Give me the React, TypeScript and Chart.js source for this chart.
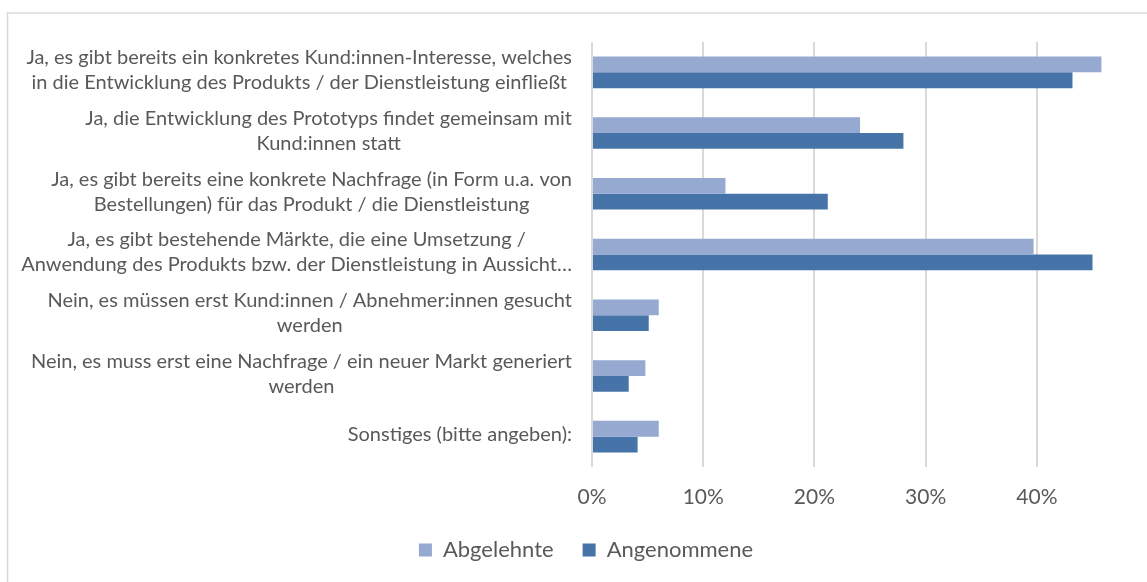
import React, { useEffect, useRef } from 'react';
import { Chart, registerables } from 'chart.js';

Chart.register(...registerables);

// ---- data ----
const categories: string[][] = [
  ['Ja, es gibt bereits ein konkretes Kund:innen-Interesse, welches', 'in die Entwicklung des Produkts / der Dienstleistung einfließt'],
  ['Ja, die Entwicklung des Prototyps findet gemeinsam mit', 'Kund:innen statt'],
  ['Ja, es gibt bereits eine konkrete Nachfrage (in Form u.a. von', 'Bestellungen) für das Produkt / die Dienstleistung'],
  ['Ja, es gibt bestehende Märkte, die eine Umsetzung /', 'Anwendung des Produkts bzw. der Dienstleistung in Aussicht…'],
  ['Nein, es müssen erst Kund:innen / Abnehmer:innen gesucht', 'werden'],
  ['Nein, es muss erst eine Nachfrage / ein neuer Markt generiert', 'werden'],
  ['Sonstiges (bitte angeben):'],
];
const seriesNames = ['Abgelehnte', 'Angenommene'];
const abgelehnte = [0.458, 0.241, 0.12, 0.397, 0.06, 0.048, 0.06];
const angenommene = [0.432, 0.28, 0.212, 0.45, 0.051, 0.033, 0.041];
const xTicks = [0, 0.1, 0.2, 0.3, 0.4];

const FONT = 'Lato';
const TEXT = '#595959';

const framePlugin = {
  id: 'frameAndLabels',
  beforeDraw(chart: any) {
    const ctx = chart.ctx;
    ctx.save();
    ctx.strokeStyle = '#d9d9d9';
    ctx.lineWidth = 1.5;
    ctx.beginPath();
    ctx.moveTo(7.5, 582);
    ctx.lineTo(7.5, 13);
    ctx.lineTo(1147, 13);
    ctx.stroke();
    ctx.restore();
  },
  afterDraw(chart: any) {
    const ctx = chart.ctx;
    const yScale = chart.scales.y;
    const right = chart.chartArea.left - 20;
    ctx.save();
    ctx.font = `20px ${FONT}`;
    ctx.fillStyle = TEXT;
    ctx.textAlign = 'center';
    ctx.textBaseline = 'middle';
    const lh = 25;
    categories.forEach((lines, i) => {
      const cy = yScale.getPixelForValue(i);
      const w = Math.max(...lines.map((l) => ctx.measureText(l).width));
      const cx = right - w / 2;
      lines.forEach((l, j) => {
        ctx.fillText(l, cx, cy - 2 + (j - (lines.length - 1) / 2) * lh);
      });
    });
    ctx.restore();
  },
};

export default function App() {
  const ref = useRef<HTMLCanvasElement>(null);
  useEffect(() => {
    if (!ref.current) return;
    const chart = new Chart(ref.current, {
      type: 'bar',
      data: {
        labels: categories.map((c) => c.join(' ')),
        datasets: [
          { label: seriesNames[0], data: abgelehnte, backgroundColor: '#95a9d1' },
          { label: seriesNames[1], data: angenommene, backgroundColor: '#4674a8' },
        ],
      },
      options: {
        indexAxis: 'y',
        responsive: false,
        animation: false,
        layout: { padding: { left: 25, top: 42, right: 0, bottom: 11 } },
        datasets: { bar: { categoryPercentage: 0.52, barPercentage: 1 } },
        scales: {
          y: {
            display: true,
            border: { display: false },
            grid: { display: false },
            ticks: { display: false },
            afterFit: (scale: any) => {
              scale.width = 567;
            },
          },
          x: {
            min: 0,
            max: 0.499,
            border: { display: false },
            grid: { color: '#d9d9d9', lineWidth: 2, drawTicks: false },
            afterBuildTicks: (scale: any) => {
              scale.ticks = xTicks.map((v) => ({ value: v }));
            },
            afterFit: (scale: any) => {
              scale.height = 43;
            },
            ticks: {
              padding: 18,
              color: TEXT,
              font: { family: FONT, size: 21 },
              callback: (v: any) => `${Math.round(Number(v) * 100)}%`,
            },
          },
        },
        plugins: {
          tooltip: { enabled: false },
          legend: {
            position: 'bottom',
            labels: {
              boxWidth: 13,
              boxHeight: 13,
              padding: 29,
              color: TEXT,
              font: { family: FONT, size: 22 },
            },
          },
        },
      },
      plugins: [framePlugin],
    });
    return () => chart.destroy();
  }, []);
  return (
    <div style={{ position: 'fixed', left: 0, top: 0, width: 1147, height: 582, background: '#fff' }}>
      <canvas ref={ref} width={1147} height={582} style={{ display: 'block' }} />
    </div>
  );
}
